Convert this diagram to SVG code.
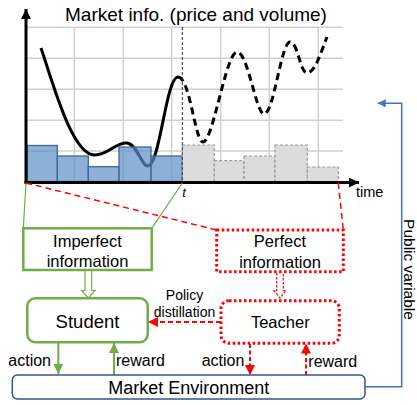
<svg xmlns="http://www.w3.org/2000/svg" width="417" height="405" viewBox="0 0 417 405">
<style>
text{font-family:"Liberation Sans",Arial,sans-serif;fill:#000}
.grid{stroke:#D0D0D0;stroke-width:1.5;fill:none}
.bar{fill:#5B8FC7;fill-opacity:0.7;stroke:#3D6A99;stroke-width:1.3}
.gbar{fill:#DCDCDC;stroke:#9A9A9A;stroke-width:1.2;stroke-dasharray:3 2}
.green{stroke:#70AD47;fill:none}
.red{stroke:#FF0000;fill:none}
.lbl{font-size:16.5px;text-anchor:middle}
.small{font-size:16px}
</style>
<defs>
<marker id="ag" viewBox="0 0 10 10" refX="10" refY="5" markerWidth="10" markerHeight="10" markerUnits="userSpaceOnUse" orient="auto"><path d="M0,0 L10,5 L0,10 Z" fill="#70AD47"/></marker>
<marker id="ar" viewBox="0 0 10 10" refX="10" refY="5" markerWidth="11" markerHeight="10" markerUnits="userSpaceOnUse" orient="auto"><path d="M0,0 L10,5 L0,10 Z" fill="#FF0000"/></marker>
<marker id="ab" viewBox="0 0 10 10" refX="10" refY="5" markerWidth="9" markerHeight="8" markerUnits="userSpaceOnUse" orient="auto"><path d="M0,0 L10,5 L0,10 Z" fill="#4472C4"/></marker>
<marker id="ak" viewBox="0 0 10 10" refX="10" refY="5" markerWidth="10" markerHeight="10" markerUnits="userSpaceOnUse" orient="auto"><path d="M0,0 L10,5 L0,10 Z" fill="#000"/></marker>
</defs>

<g id="chart">
<text x="196" y="21" font-size="19" text-anchor="middle">Market info. (price and volume)</text>
<path class="grid" d="M26,27.3H343M26,58.3H343M26,89.3H343M26,120.2H343M26,151H343M74.3,27.3V182M123.3,27.3V182M171.7,27.3V182M220.7,27.3V182M269.3,27.3V182M318.3,27.3V182"/>
<path d="M41,48 C52,80 72,156 95,155 C108,155 116,142 127,143 C137,144 142,167 148,166 C160,165 166,77 178,77" fill="none" stroke="#000" stroke-width="3"/>
<path d="M178,77 C190,77 195,142 203,142 C213,142 226,52 237,52 C248,52 256,114 264,114 C274,114 281,42 290,42 C298,42 300,73 307,73 C315,73 321,52 327,37" fill="none" stroke="#000" stroke-width="3" stroke-dasharray="7 4.5"/>
<rect class="bar" x="27.3" y="145.5" width="30" height="36"/>
<rect class="bar" x="57.3" y="156" width="31" height="25.5"/>
<rect class="bar" x="88.3" y="166.7" width="30.7" height="14.8"/>
<rect class="bar" x="119" y="147" width="32" height="34.5"/>
<rect class="bar" x="151" y="156" width="31.3" height="25.5"/>
<rect class="gbar" x="182.3" y="145" width="32" height="36.5"/>
<rect class="gbar" x="214.3" y="160.7" width="29.7" height="20.8"/>
<rect class="gbar" x="244" y="156" width="31" height="25.5"/>
<rect class="gbar" x="275" y="145" width="32.3" height="36.5"/>
<rect class="gbar" x="307.3" y="167" width="31" height="14.5"/>
<line x1="182.3" y1="27" x2="182.3" y2="182" stroke="#333" stroke-width="1" stroke-dasharray="3 2"/>
<line x1="26" y1="183.5" x2="26" y2="9" stroke="#000" stroke-width="3" marker-end="url(#ak)"/>
<line x1="24.5" y1="182.5" x2="359" y2="182.5" stroke="#000" stroke-width="3" marker-end="url(#ak)"/>
<text x="182.3" y="197" font-size="13" font-style="italic">t</text>
<text x="356" y="196.5" font-size="14.5">time</text>
</g>

<g id="connectors">
<line class="green" x1="26" y1="183" x2="23.3" y2="228.3" stroke-width="1.2"/>
<line class="green" x1="182.3" y1="183" x2="151.7" y2="228.3" stroke-width="1.2"/>
<line class="red" x1="26" y1="183" x2="216.7" y2="230" stroke-width="1.5" stroke-dasharray="6 4"/>
<line class="red" x1="338.3" y1="183" x2="343.3" y2="230" stroke-width="1.5" stroke-dasharray="6 4"/>
<path d="M85,271.3 V290.5 H81.7 L88.3,298 L95,290.5 H91.7 V271.3" fill="#fff" stroke="#70AD47" stroke-width="1.2"/>
<path d="M276.7,273 V290.5 H274 L280,298 L286,290.5 H283.3 V273" fill="#fff" stroke="#FF0000" stroke-width="1.2" stroke-dasharray="2.5 1.5"/>
<line x1="221" y1="322" x2="148" y2="322" stroke="#FF0000" stroke-width="2" stroke-dasharray="5 3" marker-end="url(#ar)"/>
<line x1="58.3" y1="343" x2="58.3" y2="374" stroke="#70AD47" stroke-width="2" marker-end="url(#ag)"/>
<line x1="114" y1="375" x2="114" y2="343" stroke="#70AD47" stroke-width="2" marker-end="url(#ag)"/>
<line x1="250" y1="344" x2="250" y2="375" stroke="#FF0000" stroke-width="2" stroke-dasharray="4 2.5" marker-end="url(#ar)"/>
<line x1="306" y1="375" x2="306" y2="343.5" stroke="#FF0000" stroke-width="2" stroke-dasharray="4 2.5" marker-end="url(#ar)"/>
<polyline points="365,386.7 401.7,386.7 401.7,103.3 377.7,103.3" fill="none" stroke="#4472C4" stroke-width="1.5" marker-end="url(#ab)"/>
<text x="184.5" y="300" font-size="14" text-anchor="middle">Policy</text>
<text x="184.5" y="317" font-size="14" text-anchor="middle">distillation</text>
<text x="8.3" y="366" class="small">action</text>
<text x="116" y="366" class="small">reward</text>
<text x="201.7" y="366" class="small">action</text>
<text x="308.3" y="366.5" class="small">reward</text>
<text transform="translate(404,269.5) rotate(90)" font-size="15.5" text-anchor="middle">Public variable</text>
</g>

<g id="imperfect">
<rect x="23.3" y="228.3" width="128.4" height="41.7" fill="#fff" stroke="#70AD47" stroke-width="2.5"/>
<text class="lbl" x="87.5" y="246.5">Imperfect</text>
<text class="lbl" x="87.5" y="267">information</text>
</g>
<g id="perfect">
<rect x="216.7" y="230" width="126.6" height="41.7" fill="#fff" stroke="#FF0000" stroke-width="3" stroke-dasharray="2.5 2.5"/>
<text class="lbl" x="280" y="246.5">Perfect</text>
<text class="lbl" x="280" y="268">information</text>
</g>
<g id="student">
<rect x="27.3" y="298.3" width="120.4" height="44" rx="8" fill="#fff" stroke="#70AD47" stroke-width="2.5"/>
<text x="87.5" y="327.7" font-size="18.5" text-anchor="middle">Student</text>
</g>
<g id="teacher">
<rect x="221" y="300.7" width="118.3" height="42.6" rx="8" fill="#fff" stroke="#FF0000" stroke-width="3" stroke-dasharray="2.5 2.5"/>
<text x="280.3" y="328" font-size="16.5" text-anchor="middle">Teacher</text>
</g>
<g id="env">
<rect x="12.3" y="375" width="352.7" height="24" rx="5" fill="#fff" stroke="#2F5597" stroke-width="1.5"/>
<text x="188.7" y="394" font-size="18" text-anchor="middle">Market Environment</text>
</g>
</svg>
